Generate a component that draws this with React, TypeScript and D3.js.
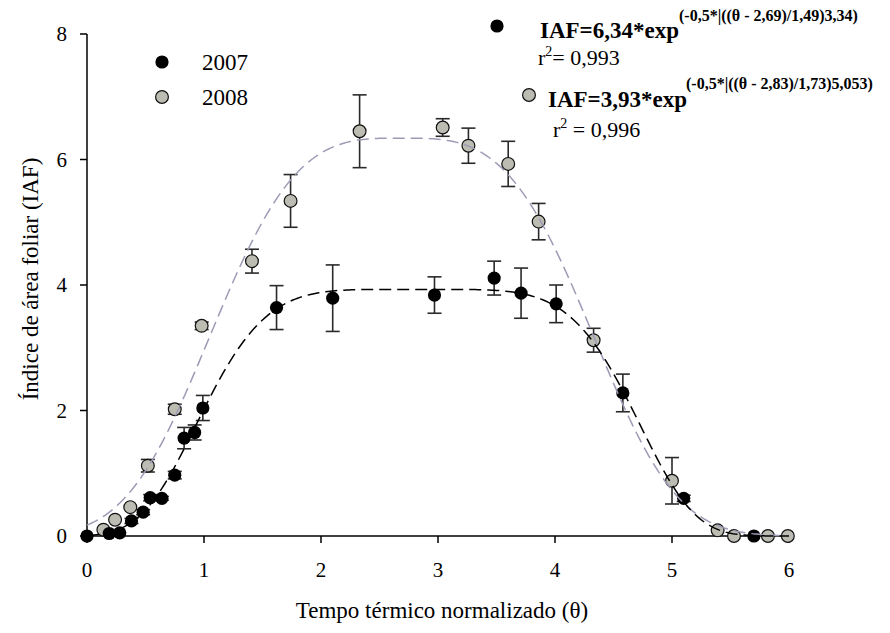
import React from "react";
import * as d3 from "d3";

// 2007 (black) observations: theta, IAF, error
const theta2007 = [0, 0.19, 0.28, 0.38, 0.48, 0.54, 0.64, 0.75, 0.83, 0.92, 0.99, 1.62, 2.10, 2.97, 3.48, 3.71, 4.01, 4.58, 5.10, 5.70];
const iaf2007 = [0, 0.04, 0.05, 0.24, 0.38, 0.61, 0.60, 0.97, 1.56, 1.65, 2.04, 3.64, 3.79, 3.84, 4.11, 3.87, 3.70, 2.28, 0.60, 0];
const err2007 = [0, 0, 0, 0.04, 0.04, 0.05, 0.03, 0.06, 0.17, 0.12, 0.2, 0.35, 0.53, 0.29, 0.27, 0.40, 0.30, 0.30, 0.05, 0];

// 2008 (grey) observations
const theta2008 = [0.14, 0.24, 0.37, 0.52, 0.75, 0.98, 1.41, 1.74, 2.33, 3.04, 3.26, 3.60, 3.86, 4.33, 5.00, 5.39, 5.53, 5.82, 5.99];
const iaf2008 = [0.10, 0.26, 0.46, 1.12, 2.02, 3.35, 4.38, 5.34, 6.45, 6.51, 6.22, 5.93, 5.01, 3.12, 0.88, 0.09, 0, 0, 0];
const err2008 = [0, 0, 0, 0.1, 0.08, 0.06, 0.19, 0.42, 0.58, 0.14, 0.28, 0.36, 0.29, 0.19, 0.37, 0, 0, 0, 0];

// fitted model parameters [a, x0, b, c]: IAF = a*exp(-0.5*|(θ-x0)/b|^c)
const fit2007 = [3.93, 2.83, 1.73, 5.053];
const fit2008 = [6.34, 2.69, 1.49, 3.34];

const xTicks = [0, 1, 2, 3, 4, 5, 6];
const yTicks = [0, 2, 4, 6, 8];
const legendLabels = ["2007", "2008"];

const FONT = "'Liberation Serif', 'Times New Roman', serif";
const GREY_FILL = "#bcbcb2";
const GREY_LINE = "#9b9bb6";

export default function App() {
  const x = d3.scaleLinear().domain([0, 6]).range([87, 789]);
  const y = d3.scaleLinear().domain([0, 8]).range([536, 34]);

  const model = (p: number[]) => (t: number) =>
    p[0] * Math.exp(-0.5 * Math.pow(Math.abs((t - p[1]) / p[2]), p[3]));
  const samples = d3.range(0, 6.0001, 0.02);
  const curvePath = (p: number[]) =>
    d3
      .line<number>()
      .x((t) => x(t))
      .y((t) => y(model(p)(t)))(samples) || "";

  const errBars = (ts: number[], vs: number[], es: number[], key: string) =>
    ts.map((t, i) =>
      es[i] > 0 ? (
        <g key={key + i} stroke="#2a2a2a" strokeWidth={1.6}>
          <line x1={x(t)} x2={x(t)} y1={y(vs[i] + es[i])} y2={y(vs[i] - es[i])} />
          <line x1={x(t) - 7} x2={x(t) + 7} y1={y(vs[i] + es[i])} y2={y(vs[i] + es[i])} />
          <line x1={x(t) - 7} x2={x(t) + 7} y1={y(vs[i] - es[i])} y2={y(vs[i] - es[i])} />
        </g>
      ) : null
    );

  return (
    <svg
      width={890}
      height={633}
      style={{ position: "absolute", left: 0, top: 0, background: "#fff" }}
      fontFamily={FONT}
    >
      <rect width={890} height={633} fill="#fff" />
      {/* axes */}
      <line x1={x(0)} x2={x(0)} y1={y(8)} y2={y(0)} stroke="#000" strokeWidth={1.5} />
      <line x1={x(0)} x2={x(6)} y1={y(0)} y2={y(0)} stroke="#000" strokeWidth={1.5} />
      {yTicks.map((v) => (
        <g key={"yt" + v}>
          <line x1={x(0) - 7} x2={x(0)} y1={y(v)} y2={y(v)} stroke="#000" strokeWidth={1.5} />
          <text x={67} y={y(v) + 7} textAnchor="end" fontSize={21}>
            {v}
          </text>
        </g>
      ))}
      {xTicks.map((v) => (
        <g key={"xt" + v}>
          <line x1={x(v)} x2={x(v)} y1={y(0)} y2={y(0) + 7} stroke="#000" strokeWidth={1.5} />
          <text x={x(v)} y={577} textAnchor="middle" fontSize={21}>
            {v}
          </text>
        </g>
      ))}
      <text x={442} y={618} textAnchor="middle" fontSize={23}>
        Tempo térmico normalizado (θ)
      </text>
      <text transform="translate(38,279) rotate(-90)" textAnchor="middle" fontSize={23}>
        Índice de área foliar (IAF)
      </text>

      {/* error bars */}
      {errBars(theta2008, iaf2008, err2008, "e8")}
      {errBars(theta2007, iaf2007, err2007, "e7")}

      {/* points */}
      {theta2008.map((t, i) => (
        <circle key={"p8" + i} cx={x(t)} cy={y(iaf2008[i])} r={6.4} fill={GREY_FILL} stroke="#111" strokeWidth={1.2} />
      ))}
      {theta2007.map((t, i) => (
        <circle key={"p7" + i} cx={x(t)} cy={y(iaf2007[i])} r={6.6} fill="#000" />
      ))}

      {/* fitted curves */}
      <path d={curvePath(fit2008)} fill="none" stroke={GREY_LINE} strokeWidth={1.5} strokeDasharray="12,6" />
      <path d={curvePath(fit2007)} fill="none" stroke="#000" strokeWidth={1.5} strokeDasharray="12,6" />

      {/* legend */}
      <circle cx={162} cy={62} r={6.6} fill="#000" />
      <text x={202} y={70} fontSize={23}>{legendLabels[0]}</text>
      <circle cx={162} cy={97} r={6.4} fill={GREY_FILL} stroke="#111" strokeWidth={1.2} />
      <text x={202} y={105} fontSize={23}>{legendLabels[1]}</text>

      {/* equations */}
      <circle cx={497} cy={26} r={6.6} fill="#000" />
      <text x={540} y={38} fontSize={23} fontWeight="bold">IAF=6,34*exp</text>
      <text x={679} y={21} fontSize={16} fontWeight="bold">(-0,5*|((θ - 2,69)/1,49)3,34)</text>
      <text x={538} y={65} fontSize={22}>
        r<tspan dy={-9} fontSize={14}>2</tspan>
        <tspan dy={9}>= 0,993</tspan>
      </text>
      <circle cx={529} cy={95} r={6.4} fill={GREY_FILL} stroke="#111" strokeWidth={1.2} />
      <text x={548} y={107} fontSize={23} fontWeight="bold">IAF=3,93*exp</text>
      <text x={686} y={89} fontSize={16} fontWeight="bold">(-0,5*|((θ - 2,83)/1,73)5,053)</text>
      <text x={553} y={137} fontSize={22}>
        r<tspan dy={-9} fontSize={14}>2</tspan>
        <tspan dy={9}> = 0,996</tspan>
      </text>
    </svg>
  );
}
